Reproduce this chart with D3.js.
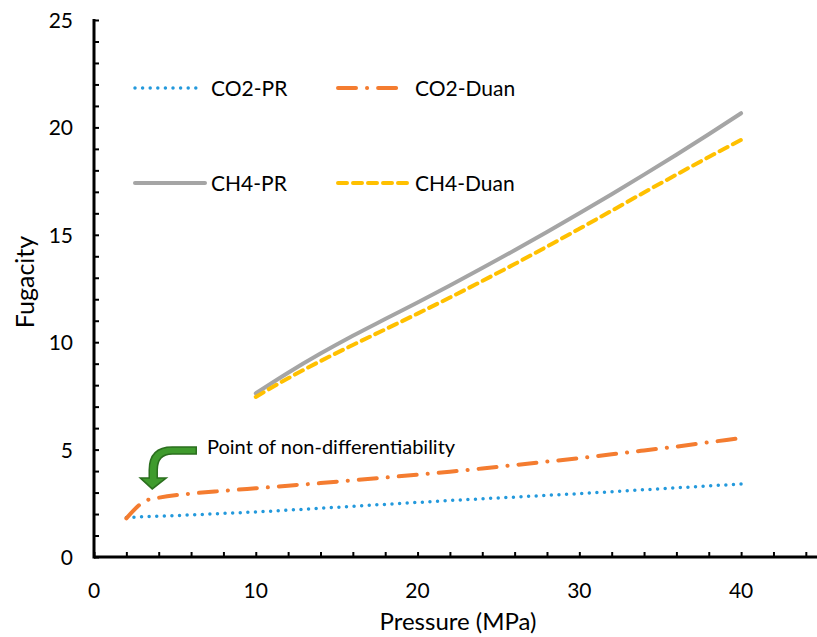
<!DOCTYPE html>
<html>
<head>
<meta charset="utf-8">
<script src="https://cdn.jsdelivr.net/npm/d3@7"></script>
<style>
  body { margin: 0; background: #fff; }
  svg text { font-family: Lato, "Noto Sans", sans-serif; fill: #000; }
</style>
</head>
<body>
<svg id="chart" width="817" height="637"></svg>
<script>
// pressure (MPa) and fugacity values
const co2PrP   = [2, 4, 6, 8, 10, 12, 14, 16, 18, 20, 22, 24, 26, 28, 30, 32, 34, 36, 38, 40];
const co2PrF   = [1.84, 1.9, 1.96, 2.03, 2.1, 2.18, 2.27, 2.36, 2.45, 2.54, 2.63, 2.71, 2.79, 2.87, 2.95, 3.04, 3.13, 3.22, 3.31, 3.4];
const co2DuanP = [2, 3.2, 4, 6, 8, 10, 12, 14, 16, 18, 20, 22, 24, 26, 28, 30, 32, 34, 36, 38, 40];
const co2DuanF = [1.8, 2.62, 2.76, 2.95, 3.08, 3.2, 3.32, 3.44, 3.57, 3.7, 3.83, 3.97, 4.12, 4.28, 4.44, 4.6, 4.78, 4.96, 5.14, 5.34, 5.54];
const ch4P     = [10, 12, 14, 16, 18, 20, 22, 24, 26, 28, 30, 32, 34, 36, 38, 40];
const ch4PrF   = [7.62, 8.58, 9.47, 10.3, 11.08, 11.85, 12.64, 13.45, 14.28, 15.13, 16.0, 16.89, 17.8, 18.73, 19.68, 20.66];
const ch4DuanF = [7.45, 8.32, 9.12, 9.87, 10.6, 11.33, 12.08, 12.85, 13.64, 14.45, 15.28, 16.12, 16.97, 17.8, 18.62, 19.42];

const xTicks = [0, 10, 20, 30, 40];
const yTicks = [0, 5, 10, 15, 20, 25];
const noteText = "Point of non-differentiability";
const notePoint = [3.6, 3.17];   // where the arrow points

const series = [
  {name: "CO2-PR",   p: co2PrP,   f: co2PrF,   color: "#2399dc", width: 3.5, dash: "0,7.6"},
  {name: "CO2-Duan", p: co2DuanP, f: co2DuanF, color: "#f47c30", width: 4,   dash: "18,11,0.1,11"},
  {name: "CH4-PR",   p: ch4P,     f: ch4PrF,   color: "#a5a5a5", width: 4,   dash: null},
  {name: "CH4-Duan", p: ch4P,     f: ch4DuanF, color: "#ffc000", width: 4,   dash: "9,6"}
];

const svg = d3.select("#chart");
const x = d3.scaleLinear().domain([0, 45]).range([94, 822]);
const y = d3.scaleLinear().domain([0, 25]).range([557, 20]);

// minor + major ticks, pointing inwards
svg.append("g")
  .attr("transform", `translate(0,${y(0)})`)
  .call(d3.axisBottom(x).tickValues(d3.range(0, 46, 2)).tickSize(-5).tickFormat(""))
  .call(g => g.select(".domain").remove())
  .call(g => g.selectAll("line").attr("stroke", "#000").attr("stroke-width", 2));
svg.append("g")
  .attr("transform", `translate(${x(0)},0)`)
  .call(d3.axisLeft(y).tickValues(d3.range(0, 26, 1)).tickSize(-5).tickFormat(""))
  .call(g => g.select(".domain").remove())
  .call(g => g.selectAll("line").attr("stroke", "#000").attr("stroke-width", 2));

svg.append("line")
  .attr("x1", x(0)).attr("x2", 817).attr("y1", y(0)).attr("y2", y(0))
  .attr("stroke", "#000").attr("stroke-width", 3);
svg.append("line")
  .attr("x1", x(0)).attr("x2", x(0)).attr("y1", y(25) - 1).attr("y2", y(0) + 1.5)
  .attr("stroke", "#000").attr("stroke-width", 3);

svg.selectAll(".xlab").data(xTicks).join("text")
  .attr("x", d => x(d)).attr("y", 598)
  .attr("text-anchor", "middle").attr("font-size", 21)
  .text(d => d);
svg.selectAll(".ylab").data(yTicks).join("text")
  .attr("x", 73).attr("y", d => y(d) + 8)
  .attr("text-anchor", "end").attr("font-size", 21)
  .text(d => d);

svg.append("text")
  .attr("x", 458).attr("y", 630)
  .attr("text-anchor", "middle").attr("font-size", 24)
  .text("Pressure (MPa)");
svg.append("text")
  .attr("transform", "translate(34,282) rotate(-90)")
  .attr("text-anchor", "middle").attr("font-size", 25)
  .text("Fugacity");

// series lines
const line = d3.line().x(d => x(d[0])).y(d => y(d[1])).curve(d3.curveMonotoneX);
series.forEach(s => {
  svg.append("path")
    .datum(d3.zip(s.p, s.f))
    .attr("d", line)
    .attr("fill", "none")
    .attr("stroke", s.color)
    .attr("stroke-width", s.width)
    .attr("stroke-linecap", "round")
    .attr("stroke-dasharray", s.dash);
});

// legend
const legend = [
  {s: series[0], lx: 135, ly: 88,  len: 66},
  {s: series[1], lx: 338, ly: 88,  len: 60},
  {s: series[2], lx: 135, ly: 183, len: 70},
  {s: series[3], lx: 338, ly: 183, len: 70}
];
legend.forEach(l => {
  svg.append("line")
    .attr("x1", l.lx).attr("x2", l.lx + l.len).attr("y1", l.ly).attr("y2", l.ly)
    .attr("stroke", l.s.color).attr("stroke-width", l.s.width)
    .attr("stroke-linecap", "round").attr("stroke-dasharray", l.s.dash);
  svg.append("text")
    .attr("x", l.lx === 135 ? 211 : 415).attr("y", l.ly + 8)
    .attr("font-size", 21)
    .text(l.s.name);
});

// annotation: bent arrow pointing to the kink
const tx = x(notePoint[0]), ty = y(notePoint[1]);
const arrow = `M${tx + 44},${ty - 42} L${tx + 20},${ty - 42} Q${tx - 3},${ty - 42} ${tx - 3},${ty - 19}
  L${tx - 3},${ty - 11} L${tx - 12},${ty - 11} L${tx},${ty} L${tx + 14},${ty - 11} L${tx + 5},${ty - 11}
  L${tx + 5},${ty - 19} Q${tx + 5},${ty - 35} ${tx + 20},${ty - 35} L${tx + 44},${ty - 35} Z`;
svg.append("path")
  .attr("d", arrow)
  .attr("fill", "#3f9b2d").attr("stroke", "#2b6f1e").attr("stroke-width", 1.5);
svg.append("text")
  .attr("x", 207).attr("y", 454)
  .attr("font-size", 20)
  .text(noteText);
</script>
</body>
</html>
